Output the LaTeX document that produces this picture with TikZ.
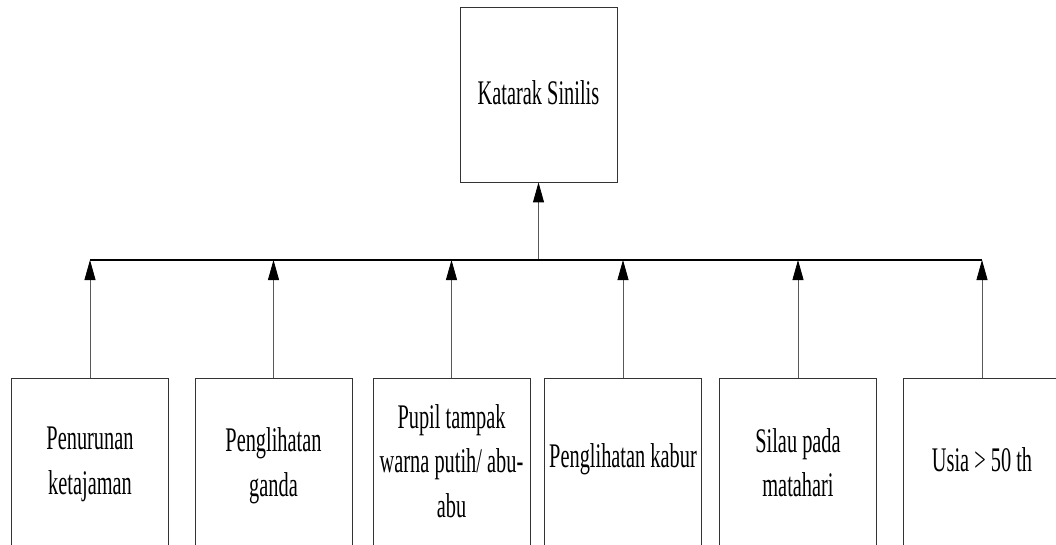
\documentclass[tikz,border=0pt]{standalone}
\usepackage{fontspec}
\setmainfont{Liberation Serif}[FakeStretch=0.59]
\usetikzlibrary{arrows.meta}

\tikzset{
  box/.style={draw=black!80, line width=0.8pt, minimum width=157pt, inner sep=0pt},
  topbox/.style={box, minimum height=175pt},
  leaf/.style={box, minimum height=176pt},
  label/.style={inner sep=0pt, align=center, font=\fontsize{34.5}{44.5}\selectfont},
  feed/.style={draw=black!65, line width=0.8pt, -{Triangle[length=20pt,width=11pt,color=black]}},
  bus/.style={draw=black, line width=1.3pt}
}

\begin{document}
\begin{tikzpicture}[x=1pt, y=-1pt]
  \useasboundingbox (0,0) rectangle (1056,545);
  \clip (0,0) rectangle (1056,545);

  % top node
  \node[topbox] (top) at (538.5,94.5) {};
  \node[label] (toplbl) at (538.5,93) {Katarak Sinilis};

  % bottom nodes (they run past the lower edge)
  \node[leaf] (b1) at (90,466) {};
  \node[leaf] (b2) at (273.5,466) {};
  \node[leaf] (b3) at (451.5,466) {};
  \node[leaf] (b4) at (623,466) {};
  \node[leaf] (b5) at (798,466) {};
  \node[leaf] (b6) at (982,466) {};

  \node[label] (t1) at (90,464.5) {Penurunan\\ketajaman};
  \node[label] (t2) at (273.5,466) {Penglihatan\\ganda};
  \node[label] (t3) at (451.5,460.7) {Pupil tampak\\warna putih/ abu-\\abu};
  \node[label] (t4) at (623,459) {Penglihatan kabur};
  \node[label] (t5) at (798,462.7) {Silau pada\\matahari};
  \node[label] (t6) at (982,460) {Usia > 50 th};

  % junctions on the collecting line
  \coordinate (j1) at (90,260);
  \coordinate (j2) at (273.5,260);
  \coordinate (j3) at (451.5,260);
  \coordinate (j4) at (623,260);
  \coordinate (j5) at (798,260);
  \coordinate (j6) at (982,260);
  \coordinate (jt) at (538.5,260);

  % connectors
  \foreach \i in {1,...,6} {
    \draw[feed] (b\i.north) -- (j\i);
  }
  \draw[feed] (jt) -- (top.south);
  \draw[bus] (j1) -- (j6);
\end{tikzpicture}
\end{document}
